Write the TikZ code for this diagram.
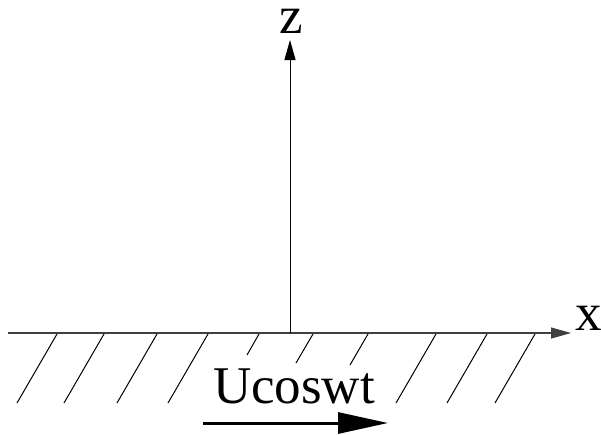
\documentclass[tikz,border=0pt]{standalone}
\usepackage{fontspec}
\setmainfont{Liberation Serif}
\usetikzlibrary{arrows.meta}
\begin{document}
\begin{tikzpicture}[x=1pt,y=-1pt,
  axis/.style={line width=1.1pt,draw=black!75,-{Triangle[length=20pt,width=11pt]}},
  hatch/.style={line width=1pt},
  motion/.style={line width=3pt,-{Triangle[length=50pt,width=21pt]}},
  lbl/.style={font=\fontsize{53}{60}\selectfont,inner sep=0pt,anchor=base},
  small/.style={text height=24pt,text depth=0pt}]
\useasboundingbox (0,0) rectangle (601,434);
\coordinate (O) at (290,333);
\coordinate (xs) at (8,333);
\coordinate (xe) at (571,333);
\coordinate (ze) at (290,40);
\draw[axis] (xs) -- (xe);
\draw[line width=1pt,-{Triangle[length=20pt,width=11pt]}] (O) -- (ze);
% full hatch lines
\foreach \t in {57,104,157,208,436,487,535}
  \draw[hatch] (\t,334) -- (\t-40,403);
% short hatch lines (interrupted by text)
\draw[hatch] (259,334) -- (247,355);
\draw[hatch] (313,334) -- (296,363);
\draw[hatch] (368,334) -- (350,365);
\node[lbl,small] (zl) at (291.5,33) {z};
\node[lbl,small] (xl) at (589,330) {x};
\node[lbl,text height=37pt,text depth=0pt] (ul) at (294,403) {Ucoswt};
\coordinate (ms) at (203,423);
\coordinate (me) at (388,423);
\draw[motion] (ms) -- (me);
\end{tikzpicture}
\end{document}
